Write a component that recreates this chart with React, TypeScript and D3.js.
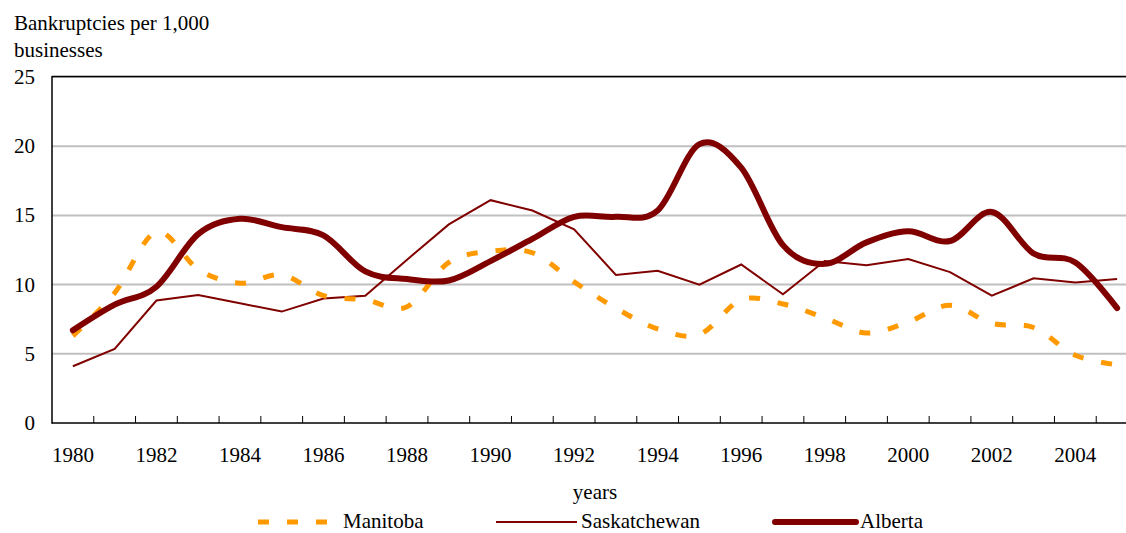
import { useEffect, useRef } from 'react';
import * as d3 from 'd3';

const years = d3.range(1980, 2006).map(String);
const yTicks = [0, 5, 10, 15, 20, 25];

const manitoba = [6.3, 9.4, 13.8, 11.1, 10.1, 10.7, 9.2, 8.9, 8.4, 11.6, 12.4, 12.3, 10.2, 8.3, 6.8, 6.4, 8.9, 8.6, 7.6, 6.5, 7.3, 8.5, 7.2, 6.9, 4.9, 4.2];
const saskatchewan = [4.1, 5.35, 8.85, 9.25, 8.65, 8.05, 9.0, 9.2, 11.8, 14.35, 16.1, 15.35, 14.0, 10.7, 11.0, 10.0, 11.45, 9.3, 11.7, 11.4, 11.85, 10.9, 9.2, 10.45, 10.15, 10.4];
const alberta = [6.7, 8.55, 9.85, 13.65, 14.75, 14.15, 13.55, 10.95, 10.4, 10.3, 11.7, 13.3, 14.9, 14.9, 15.35, 20.15, 18.45, 12.85, 11.5, 13.05, 13.85, 13.15, 15.25, 12.25, 11.6, 8.3];

const seriesNames = ['Manitoba', 'Saskatchewan', 'Alberta'];

function App() {
  const svgRef = useRef<SVGSVGElement>(null);

  useEffect(() => {
    const svg = d3.select(svgRef.current);
    svg.selectAll('*').remove();

    const font = '"Liberation Serif", "Times New Roman", serif';
    const fs = 21;
    const left = 52, right = 1138, top = 77, bottom = 423;

    const x = d3.scaleBand().domain(years).range([left, right]);
    const y = d3.scaleLinear().domain([0, 25]).range([bottom, top]);
    const cx = (i: number) => (x(years[i]) as number) + x.bandwidth() / 2;

    // gridlines
    svg.append('g')
      .selectAll('line')
      .data(yTicks.filter(d => d > 0))
      .join('line')
      .attr('x1', left).attr('x2', right)
      .attr('y1', d => y(d)).attr('y2', d => y(d))
      .attr('stroke', '#c0c0c0')
      .attr('stroke-width', 2);

    // top border
    svg.append('line')
      .attr('x1', left).attr('x2', right)
      .attr('y1', y(25) - 0.5).attr('y2', y(25) - 0.5)
      .attr('stroke', '#000').attr('stroke-width', 1.5);

    // series
    const curve = d3.curveCatmullRom.alpha(0);
    const lineSmooth = d3.line<number>().x((d, i) => cx(i)).y(d => y(d)).curve(curve);
    const lineStraight = d3.line<number>().x((d, i) => cx(i)).y(d => y(d));

    svg.append('path')
      .attr('d', lineStraight(saskatchewan))
      .attr('fill', 'none')
      .attr('stroke', '#800000')
      .attr('stroke-width', 2);

    svg.append('path')
      .attr('d', lineSmooth(manitoba))
      .attr('fill', 'none')
      .attr('stroke', '#ff9900')
      .attr('stroke-width', 5)
      .attr('stroke-dasharray', '11,18');

    svg.append('path')
      .attr('d', lineSmooth(alberta))
      .attr('fill', 'none')
      .attr('stroke', '#800000')
      .attr('stroke-width', 6)
      .attr('stroke-linecap', 'round')
      .attr('stroke-linejoin', 'round');

    // axes
    const xAxis = svg.append('g')
      .attr('transform', `translate(0,${bottom})`)
      .call(d3.axisBottom(x).tickSize(0).tickFormat((d, i) => (i % 2 === 0 ? d : '')));
    xAxis.select('.domain').remove();
    xAxis.selectAll('text')
      .attr('dy', 0)
      .attr('y', 39)
      .attr('font-family', font)
      .attr('font-size', fs)
      .attr('fill', '#000');

    // x ticks between categories
    svg.append('g')
      .selectAll('line')
      .data(d3.range(1, years.length))
      .join('line')
      .attr('x1', i => left + i * x.step())
      .attr('x2', i => left + i * x.step())
      .attr('y1', bottom)
      .attr('y2', bottom - 7)
      .attr('stroke', '#000')
      .attr('stroke-width', 1);

    svg.append('line')
      .attr('x1', left).attr('x2', right)
      .attr('y1', bottom).attr('y2', bottom)
      .attr('stroke', '#000').attr('stroke-width', 1.5);
    svg.append('line')
      .attr('x1', left).attr('x2', left)
      .attr('y1', top - 1).attr('y2', bottom + 0.75)
      .attr('stroke', '#000').attr('stroke-width', 1.5);

    svg.append('g')
      .selectAll('text')
      .data(yTicks)
      .join('text')
      .attr('x', 35)
      .attr('y', d => y(d) + 7)
      .attr('text-anchor', 'end')
      .attr('font-family', font)
      .attr('font-size', fs)
      .text(d => d);

    // axis titles
    svg.append('text')
      .attr('x', 14).attr('y', 30)
      .attr('font-family', font).attr('font-size', fs)
      .text('Bankruptcies per 1,000');
    svg.append('text')
      .attr('x', 14).attr('y', 57)
      .attr('font-family', font).attr('font-size', fs)
      .text('businesses');
    svg.append('text')
      .attr('x', 595).attr('y', 499)
      .attr('text-anchor', 'middle')
      .attr('font-family', font).attr('font-size', fs)
      .text('years');

    // legend
    const legendY = 522;
    const legend = [
      { name: seriesNames[0], x1: 258, x2: 330, tx: 343, color: '#ff9900', w: 5, dash: '11,18' },
      { name: seriesNames[1], x1: 496, x2: 577, tx: 581, color: '#800000', w: 2, dash: null },
      { name: seriesNames[2], x1: 775, x2: 856, tx: 860, color: '#800000', w: 6, dash: null },
    ];
    const lg = svg.append('g').selectAll('g').data(legend).join('g');
    lg.append('line')
      .attr('x1', d => d.x1).attr('x2', d => d.x2)
      .attr('y1', legendY).attr('y2', legendY)
      .attr('stroke', d => d.color)
      .attr('stroke-width', d => d.w)
      .attr('stroke-linecap', d => (d.w === 6 ? 'round' : 'butt'))
      .attr('stroke-dasharray', d => d.dash);
    lg.append('text')
      .attr('x', d => d.tx).attr('y', legendY + 6)
      .attr('font-family', font).attr('font-size', fs)
      .text(d => d.name);
  }, []);

  return (
    <svg ref={svgRef} width={1126} height={533}
      style={{ position: 'absolute', left: 0, top: 0, background: '#fff' }} />
  );
}

export default App;
